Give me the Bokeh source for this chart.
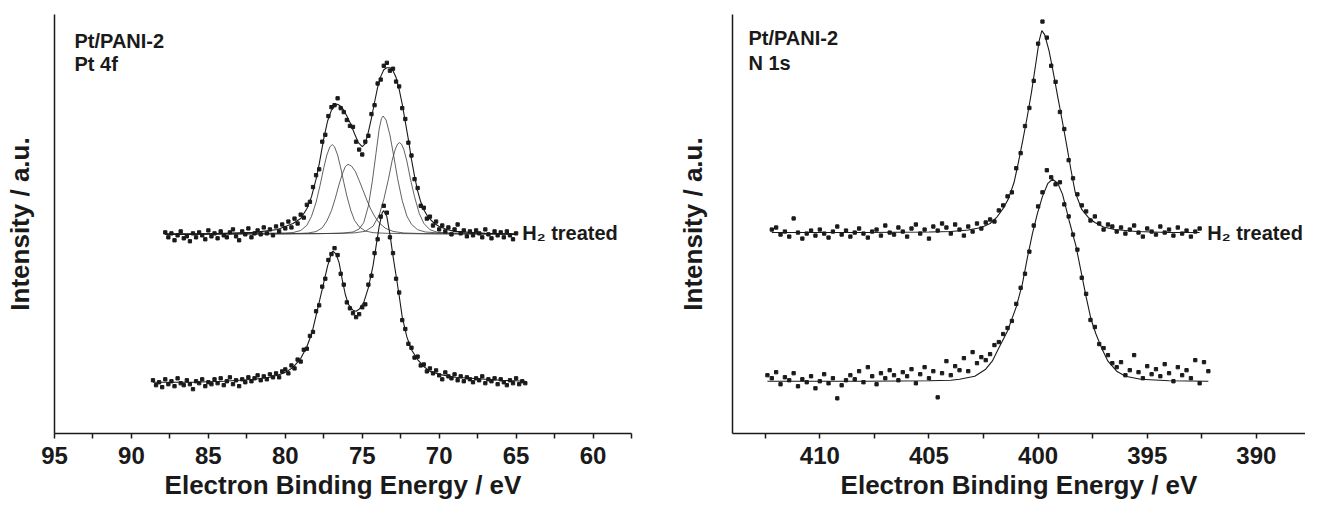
from bokeh.plotting import figure
from bokeh.layouts import row
from bokeh.models import Range1d, Label, FixedTicker
from bokeh.embed import file_html
from bokeh.resources import INLINE

# ---------------- Pt 4f panel ----------------
PT_TICKS = [95, 90, 85, 80, 75, 70, 65, 60]
PT_MINOR = [92.5, 87.5, 82.5, 77.5, 72.5, 67.5, 62.5, 57.5]

# as-prepared (lower) spectrum, data points
PT_AS_E = [
    88.6, 88.4, 88.2, 88.0, 87.8, 87.6, 87.4, 87.2, 87.0, 86.8,
    86.6, 86.4, 86.2, 86.0, 85.8, 85.6, 85.4, 85.2, 85.0, 84.8,
    84.6, 84.4, 84.2, 84.0, 83.8, 83.6, 83.4, 83.2, 83.0, 82.8,
    82.6, 82.4, 82.2, 82.0, 81.8, 81.6, 81.4, 81.2, 81.0, 80.8,
    80.6, 80.4, 80.2, 80.0, 79.8, 79.6, 79.4, 79.2, 79.0, 78.8,
    78.6, 78.4, 78.2, 78.0, 77.8, 77.6, 77.4, 77.2, 77.0, 76.8,
    76.6, 76.4, 76.2, 76.0, 75.8, 75.6, 75.4, 75.2, 75.0, 74.8,
    74.6, 74.4, 74.2, 74.0, 73.8, 73.6, 73.4, 73.2, 73.0, 72.8,
    72.6, 72.4, 72.2, 72.0, 71.8, 71.6, 71.4, 71.2, 71.0, 70.8,
    70.6, 70.4, 70.2, 70.0, 69.8, 69.6, 69.4, 69.2, 69.0, 68.8,
    68.6, 68.4, 68.2, 68.0, 67.8, 67.6, 67.4, 67.2, 67.0, 66.8,
    66.6, 66.4, 66.2, 66.0, 65.8, 65.6, 65.4, 65.2, 65.0, 64.8,
    64.6, 64.4]
PT_AS_I = [
    54, 49, 52, 47, 55, 50, 53, 48, 56, 51,
    49, 54, 50, 45, 53, 51, 55, 48, 52, 50,
    55, 51, 56, 49, 53, 57, 50, 54, 48, 55,
    52, 57, 53, 56, 59, 54, 58, 55, 60, 57,
    61, 57, 63, 65, 61, 69, 66, 75, 73, 85,
    86, 99, 103, 124, 130, 149, 157, 176, 182, 188,
    181, 162, 151, 133, 127, 122, 118, 121, 128, 131,
    151, 160, 183, 197, 220, 231, 224, 199, 183, 157,
    143, 115, 106, 91, 87, 77, 78, 69, 70, 63,
    66, 61, 64, 59, 55, 62, 58, 56, 60, 54,
    58, 53, 57, 55, 52, 56, 54, 58, 51, 55,
    53, 56, 50, 55, 52, 49, 54, 51, 56, 50,
    53, 51]
# as-prepared fit envelope
PT_AS_FIT_E = [88.6, 86.0, 84.0, 82.0, 81.0, 80.5, 80.0, 79.5, 79.0, 78.6,
               78.25, 77.8, 77.5, 77.25, 77.0, 76.9, 76.7, 76.5, 76.3, 76.1,
               75.9, 75.6, 75.4, 75.2, 74.9, 74.6, 74.3, 74.1, 73.9, 73.7,
               73.6, 73.4, 73.2, 73.0, 72.8, 72.6, 72.4, 72.1, 71.8, 71.4,
               71.0, 70.6, 70.0, 69.0, 68.0, 67.0, 66.0, 64.4]
PT_AS_FIT_I = [52, 52, 53, 55, 57, 59, 62, 67, 76, 88,
               103, 133, 153, 170, 183, 185, 182, 173, 156, 141,
               131, 125, 124, 126, 133, 148, 170, 190, 210, 224,
               226, 220, 202, 180, 160, 140, 118, 98, 85, 75,
               68, 63, 60, 57, 56, 55, 54, 53]

# H2 treated (upper) spectrum, data points
PT_H2_E = [
    87.8, 87.6, 87.4, 87.2, 87.0, 86.8, 86.6, 86.4, 86.2, 86.0,
    85.8, 85.6, 85.4, 85.2, 85.0, 84.8, 84.6, 84.4, 84.2, 84.0,
    83.8, 83.6, 83.4, 83.2, 83.0, 82.8, 82.6, 82.4, 82.2, 82.0,
    81.8, 81.6, 81.4, 81.2, 81.0, 80.8, 80.6, 80.4, 80.2, 80.0,
    79.8, 79.6, 79.4, 79.2, 79.0, 78.8, 78.6, 78.4, 78.2, 78.0,
    77.8, 77.6, 77.4, 77.2, 77.0, 76.8, 76.6, 76.4, 76.2, 76.0,
    75.8, 75.6, 75.4, 75.2, 75.0, 74.8, 74.6, 74.4, 74.2, 74.0,
    73.8, 73.6, 73.4, 73.2, 73.0, 72.8, 72.6, 72.4, 72.2, 72.0,
    71.8, 71.6, 71.4, 71.2, 71.0, 70.8, 70.6, 70.4, 70.2, 70.0,
    69.8, 69.6, 69.4, 69.2, 69.0, 68.8, 68.6, 68.4, 68.2, 68.0,
    67.8, 67.6, 67.4, 67.2, 67.0, 66.8, 66.6, 66.4, 66.2, 66.0,
    65.8, 65.6, 65.4, 65.2, 65.0]
PT_H2_I = [
    204, 199, 203, 196, 201, 205, 198, 200, 195, 203,
    199, 204, 201, 197, 206, 200, 203, 198, 205, 201,
    199, 204, 207, 200, 196, 205, 202, 208, 199, 203,
    206, 202, 209, 203, 207, 201, 210, 205, 212, 208,
    215, 209, 218, 213, 222, 219, 232, 235, 250, 262,
    268, 296, 303, 322, 331, 333, 340, 330, 326, 318,
    312, 311, 296, 288, 283, 296, 302, 324, 333, 355,
    359, 373, 376, 368, 370, 357, 352, 330, 319, 295,
    282, 258, 249, 231, 229, 218, 220, 211, 215, 207,
    211, 205, 209, 202, 207, 212, 203, 206, 200, 205,
    201, 206, 203, 199, 207, 202, 198, 205, 201, 204,
    199, 205, 201, 197, 203]
# H2 treated fit envelope
PT_H2_FIT_E = [87.8, 86.0, 84.0, 82.0, 80.5, 80.0, 79.5, 79.0, 78.6, 78.3,
               78.0, 77.8, 77.5, 77.25, 77.0, 76.8, 76.6, 76.4, 76.2, 76.0,
               75.75, 75.5, 75.25, 75.0, 74.8, 74.6, 74.4, 74.2, 74.0, 73.8,
               73.6, 73.4, 73.2, 73.0, 72.8, 72.6, 72.4, 72.2, 72.0, 71.8,
               71.6, 71.4, 71.2, 71.0, 70.7, 70.3, 70.0, 69.5, 69.0, 68.0,
               67.0, 65.0]
PT_H2_FIT_I = [202, 202, 203, 204, 207, 210, 213, 218, 228, 240,
               258, 273, 299, 317, 328, 332, 334, 332, 328, 322,
               314, 304, 295, 291, 294, 306, 320, 336, 351, 362,
               369, 371, 371, 368, 361, 349, 334, 316, 298, 278,
               261, 246, 235, 227, 219, 213, 210, 207, 205, 204,
               203, 202]
# H2 treated fitted components
PT_C1_E = [87.8, 80.0, 79.5, 79.0, 78.6, 78.3, 78.0, 77.75, 77.5, 77.3, 77.1,
           76.95, 76.8, 76.6, 76.4, 76.2, 76.0, 75.75, 75.5, 75.2, 74.8,
           74.3, 73.5, 72.5, 71.0, 65.0]
PT_C1_I = [202.3, 203.4, 203.8, 205.9, 211.1, 220.2, 234.5, 251.0, 269.5, 282.5, 290.8,
           293.0, 290.8, 282.5, 269.5, 254.8, 241.0, 226.6, 216.1, 209.7, 205.4,
           203.7, 203.1, 202.8, 202.5, 202.3]
PT_C2_E = [87.8, 80.0, 79.0, 78.5, 78.0, 77.6, 77.3, 77.0, 76.75, 76.5,
           76.3, 76.1, 75.92, 75.7, 75.45, 75.2, 74.95, 74.7, 74.45, 74.2,
           73.9, 73.5, 73.0, 72.3, 71.3, 70.0, 65.0]
PT_C2_I = [202.3, 202.6, 203.0, 203.4, 204.8, 208.6, 215.5, 226.0, 238.6, 253.0,
           263.0, 270.7, 273.0, 271.3, 265.9, 256.7, 246.7, 236.8, 227.6, 220.5,
           213.7, 208.2, 205.0, 203.4, 202.9, 202.6, 202.3]
PT_C3_E = [87.8, 78.0, 77.0, 76.2, 75.6, 75.2, 74.9, 74.6, 74.35, 74.1,
           73.9, 73.75, 73.64, 73.45, 73.2, 72.95, 72.7, 72.4, 72.1, 71.8,
           71.4, 70.9, 70.2, 69.0, 67.0, 65.0]
PT_C3_I = [202.2, 202.6, 203.0, 203.4, 204.4, 207.4, 214.0, 230.8, 255.4, 284.8,
           308.8, 319.6, 322.0, 318.0, 302.8, 281.2, 258.4, 236.2, 220.6, 212.2,
           206.7, 204.4, 203.6, 203.1, 202.7, 202.5]
PT_C4_E = [87.8, 76.5, 75.5, 74.8, 74.3, 73.9, 73.6, 73.3, 73.05, 72.85,
           72.7, 72.58, 72.45, 72.3, 72.1, 71.85, 71.6, 71.3, 71.0, 70.6,
           70.1, 69.4, 68.5, 67.0, 65.0]
PT_C4_I = [202.2, 202.9, 203.5, 205.1, 210.2, 221.5, 237.3, 257.8, 277.3, 288.5,
           293.6, 295.0, 293.5, 288.3, 276.4, 256.9, 240.1, 223.4, 213.2, 206.7,
           204.0, 203.2, 202.9, 202.7, 202.5]

# ---------------- N 1s panel ----------------
N_TICKS = [410, 405, 400, 395, 390]
N_MINOR = [412.5, 407.5, 402.5, 397.5, 392.5]

N_H2_E = [
    412.2, 412.0, 411.8, 411.6, 411.4, 411.2, 411.0, 410.8, 410.6, 410.4,
    410.2, 410.0, 409.8, 409.6, 409.4, 409.2, 409.0, 408.8, 408.6, 408.4,
    408.2, 408.0, 407.8, 407.6, 407.4, 407.2, 407.0, 406.8, 406.6, 406.4,
    406.2, 406.0, 405.8, 405.6, 405.4, 405.2, 405.0, 404.8, 404.6, 404.4,
    404.2, 404.0, 403.8, 403.6, 403.4, 403.2, 403.0, 402.8, 402.6, 402.4,
    402.2, 402.0, 401.8, 401.6, 401.4, 401.2, 401.0, 400.8, 400.6, 400.4,
    400.2, 400.0, 399.8, 399.6, 399.4, 399.2, 399.0, 398.8, 398.6, 398.4,
    398.2, 398.0, 397.8, 397.6, 397.4, 397.2, 397.0, 396.8, 396.6, 396.4,
    396.2, 396.0, 395.8, 395.6, 395.4, 395.2, 395.0, 394.8, 394.6, 394.4,
    394.2, 394.0, 393.8, 393.6, 393.4, 393.2, 393.0, 392.8, 392.6]
N_H2_I = [
    203, 205, 198, 201, 196, 214, 200, 194, 199, 202,
    197, 203, 199, 195, 201, 206, 198, 202, 196, 200,
    204, 199, 195, 201, 203, 197, 207, 200, 198, 205,
    201, 196, 204, 208, 199, 203, 194, 206, 202, 209,
    205, 199, 208, 203, 197, 206, 201, 209, 204, 210,
    213, 211, 222, 227, 236, 240, 264, 279, 306, 324,
    351, 388, 410, 394, 366, 350, 320, 303, 272, 254,
    238, 227, 221, 212, 216, 209, 203, 208, 206, 201,
    205, 199, 203, 207, 200, 196, 204, 201, 198, 206,
    200, 203, 197, 205, 199, 202, 196, 201, 204]
N_H2_FIT_E = [412.2, 408.0, 405.0, 404.0, 403.2, 402.6, 402.2, 401.9, 401.6, 401.35,
              401.1, 400.9, 400.7, 400.5, 400.3, 400.1, 399.95, 399.83, 399.7, 399.5,
              399.3, 399.1, 398.9, 398.7, 398.5, 398.3, 398.0, 397.7, 397.4, 397.0,
              396.5, 395.5, 394.0, 392.6]
N_H2_FIT_I = [200, 200, 200.5, 201, 202.5, 205, 209, 215, 224, 234,
              250, 270, 292, 315, 340, 369, 391, 401, 397, 381,
              359, 335, 312, 288, 263, 240, 223, 215, 210, 205.5,
              203, 201, 200, 200]

N_AS_E = [
    412.4, 412.2, 412.0, 411.8, 411.6, 411.4, 411.2, 411.0, 410.8, 410.6,
    410.4, 410.2, 410.0, 409.8, 409.6, 409.4, 409.2, 409.0, 408.8, 408.6,
    408.4, 408.2, 408.0, 407.8, 407.6, 407.4, 407.2, 407.0, 406.8, 406.6,
    406.4, 406.2, 406.0, 405.8, 405.6, 405.4, 405.2, 405.0, 404.8, 404.6,
    404.4, 404.2, 404.0, 403.8, 403.6, 403.4, 403.2, 403.0, 402.8, 402.6,
    402.4, 402.2, 402.0, 401.8, 401.6, 401.4, 401.2, 401.0, 400.8, 400.6,
    400.4, 400.2, 400.0, 399.8, 399.6, 399.4, 399.2, 399.0, 398.8, 398.6,
    398.4, 398.2, 398.0, 397.8, 397.6, 397.4, 397.2, 397.0, 396.8, 396.6,
    396.4, 396.2, 396.0, 395.8, 395.6, 395.4, 395.2, 395.0, 394.8, 394.6,
    394.4, 394.2, 394.0, 393.8, 393.6, 393.4, 393.2, 393.0, 392.8, 392.6,
    392.4, 392.2]
N_AS_I = [
    58, 55, 61, 49, 56, 53, 60, 47, 54, 51,
    57, 45, 52, 59, 50, 55, 35, 48, 53, 58,
    54, 62, 51, 66, 57, 49, 60, 55, 63, 58,
    53, 61, 57, 64, 50, 59, 66, 55, 62, 36,
    60, 72, 58, 67, 63, 75, 62, 81, 70, 76,
    73, 79, 88, 91, 99, 105, 112, 129, 145, 159,
    181, 207, 226, 240, 262, 255, 248, 250, 228, 216,
    198, 183, 155, 139, 113, 106, 89, 85, 78, 70,
    66, 71, 58, 63, 78, 61, 55, 67, 59, 64,
    57, 69, 60, 52, 66, 58, 63, 55, 73, 50,
    71, 62]
N_AS_FIT_E = [412.4, 408.0, 405.0, 404.0, 403.6, 402.9, 402.4, 402.1, 401.8, 401.4,
              401.0, 400.72, 400.49, 400.26, 400.03, 399.8, 399.55, 399.34, 399.1, 398.88,
              398.58, 398.27, 398.04, 397.8, 397.58, 397.35, 397.05, 396.8, 396.4, 396.0,
              395.3, 394.0, 392.2]
N_AS_FIT_I = [52, 52, 52.5, 53, 54, 57, 64, 72, 85, 102,
              126, 149, 175, 199, 219, 236, 249, 253, 249, 238,
              212, 187, 162, 136, 114, 99, 83, 72, 62, 57,
              54, 52.5, 52]

for a, b in [(PT_AS_E, PT_AS_I), (PT_AS_FIT_E, PT_AS_FIT_I), (PT_H2_E, PT_H2_I),
             (PT_H2_FIT_E, PT_H2_FIT_I), (PT_C1_E, PT_C1_I), (PT_C2_E, PT_C2_I),
             (PT_C3_E, PT_C3_I), (PT_C4_E, PT_C4_I), (N_H2_E, N_H2_I),
             (N_H2_FIT_E, N_H2_FIT_I), (N_AS_E, N_AS_I), (N_AS_FIT_E, N_AS_FIT_I)]:
    assert len(a) == len(b), (len(a), len(b), a[0])

FONT = "Liberation Sans"
INK = "#1a1a1a"
H = 502


def make_panel(width, xr, ytop, bl, br, bt, ticks, minor, ylab_standoff):
    p = figure(width=width, height=H, x_range=Range1d(*xr), y_range=Range1d(0, ytop),
               output_backend="svg", toolbar_location=None,
               min_border_left=bl, min_border_right=br, min_border_top=bt,
               min_border_bottom=10)
    p.outline_line_color = None
    p.grid.visible = False
    p.background_fill_color = "white"
    p.border_fill_color = "white"

    xa = p.xaxis[0]
    xa.ticker = FixedTicker(ticks=ticks, minor_ticks=minor)
    xa.axis_line_width = 1.5
    xa.axis_line_color = INK
    xa.major_tick_line_width = 1.5
    xa.minor_tick_line_width = 1.5
    xa.major_tick_line_color = INK
    xa.minor_tick_line_color = INK
    xa.major_tick_in = 0
    xa.major_tick_out = 5
    xa.minor_tick_in = 0
    xa.minor_tick_out = 5
    xa.major_label_standoff = 8
    xa.major_label_text_font = FONT
    xa.major_label_text_font_style = "bold"
    xa.major_label_text_font_size = "24px"
    xa.major_label_text_color = INK
    xa.axis_label = "Electron Binding Energy / eV"
    xa.axis_label_standoff = 3
    xa.axis_label_text_font = FONT
    xa.axis_label_text_font_style = "bold"
    xa.axis_label_text_font_size = "26px"
    xa.axis_label_text_color = INK

    ya = p.yaxis[0]
    ya.ticker = FixedTicker(ticks=[])
    ya.major_label_text_font_size = "0px"
    ya.major_label_standoff = 0
    ya.major_tick_in = 0
    ya.major_tick_out = 0
    ya.minor_tick_in = 0
    ya.minor_tick_out = 0
    ya.axis_line_width = 1.5
    ya.axis_line_color = INK
    ya.axis_label = "Intensity / a.u."
    ya.axis_label_standoff = ylab_standoff
    ya.axis_label_text_font = FONT
    ya.axis_label_text_font_style = "bold"
    ya.axis_label_text_font_size = "26px"
    ya.axis_label_text_color = INK
    return p


def lbl(p, x, y, text, size, align="left", baseline="alphabetic"):
    p.add_layout(Label(x=x, y=y, text=text, text_font=FONT, text_font_style="bold",
                       text_font_size=size, text_color=INK, text_align=align,
                       text_baseline=baseline))


# ---- left panel ----
p1 = make_panel(652, (95, 57.5), 425, 54, 21, 5, PT_TICKS, PT_MINOR, 20)
for ce, ci in [(PT_C1_E, PT_C1_I), (PT_C2_E, PT_C2_I), (PT_C3_E, PT_C3_I), (PT_C4_E, PT_C4_I)]:
    p1.line(ce, ci, line_color="#3a3a3a", line_width=0.8)
p1.line(PT_H2_FIT_E, PT_H2_FIT_I, line_color=INK, line_width=1.1)
p1.line(PT_AS_FIT_E, PT_AS_FIT_I, line_color=INK, line_width=1.1)
p1.scatter(PT_H2_E, PT_H2_I, marker="square", size=3.3, color=INK)
p1.scatter(PT_AS_E, PT_AS_I, marker="square", size=3.3, color=INK)
lbl(p1, 93.7, 398, "Pt/PANI-2", "20px")
lbl(p1, 93.7, 375, "Pt 4f", "20px")
lbl(p1, 64.6, 203, "H\u2082 treated", "20px", baseline="middle")

# ---- right panel ----
p2 = make_panel(653, (414, 387.75), 417, 80, 0, 14, N_TICKS, N_MINOR, 25)
p2.line(N_H2_FIT_E, N_H2_FIT_I, line_color=INK, line_width=1.1)
p2.line(N_AS_FIT_E, N_AS_FIT_I, line_color=INK, line_width=1.1)
p2.scatter(N_H2_E, N_H2_I, marker="square", size=3.3, color=INK)
p2.scatter(N_AS_E, N_AS_I, marker="square", size=3.3, color=INK)
lbl(p2, 413.27, 394, "Pt/PANI-2", "20px")
lbl(p2, 413.27, 369, "N 1s", "20px")
lbl(p2, 392.25, 200, "H\u2082 treated", "20px", baseline="middle")

layout = row(p1, p2)
open("out.html", "w").write(file_html(layout, INLINE))
